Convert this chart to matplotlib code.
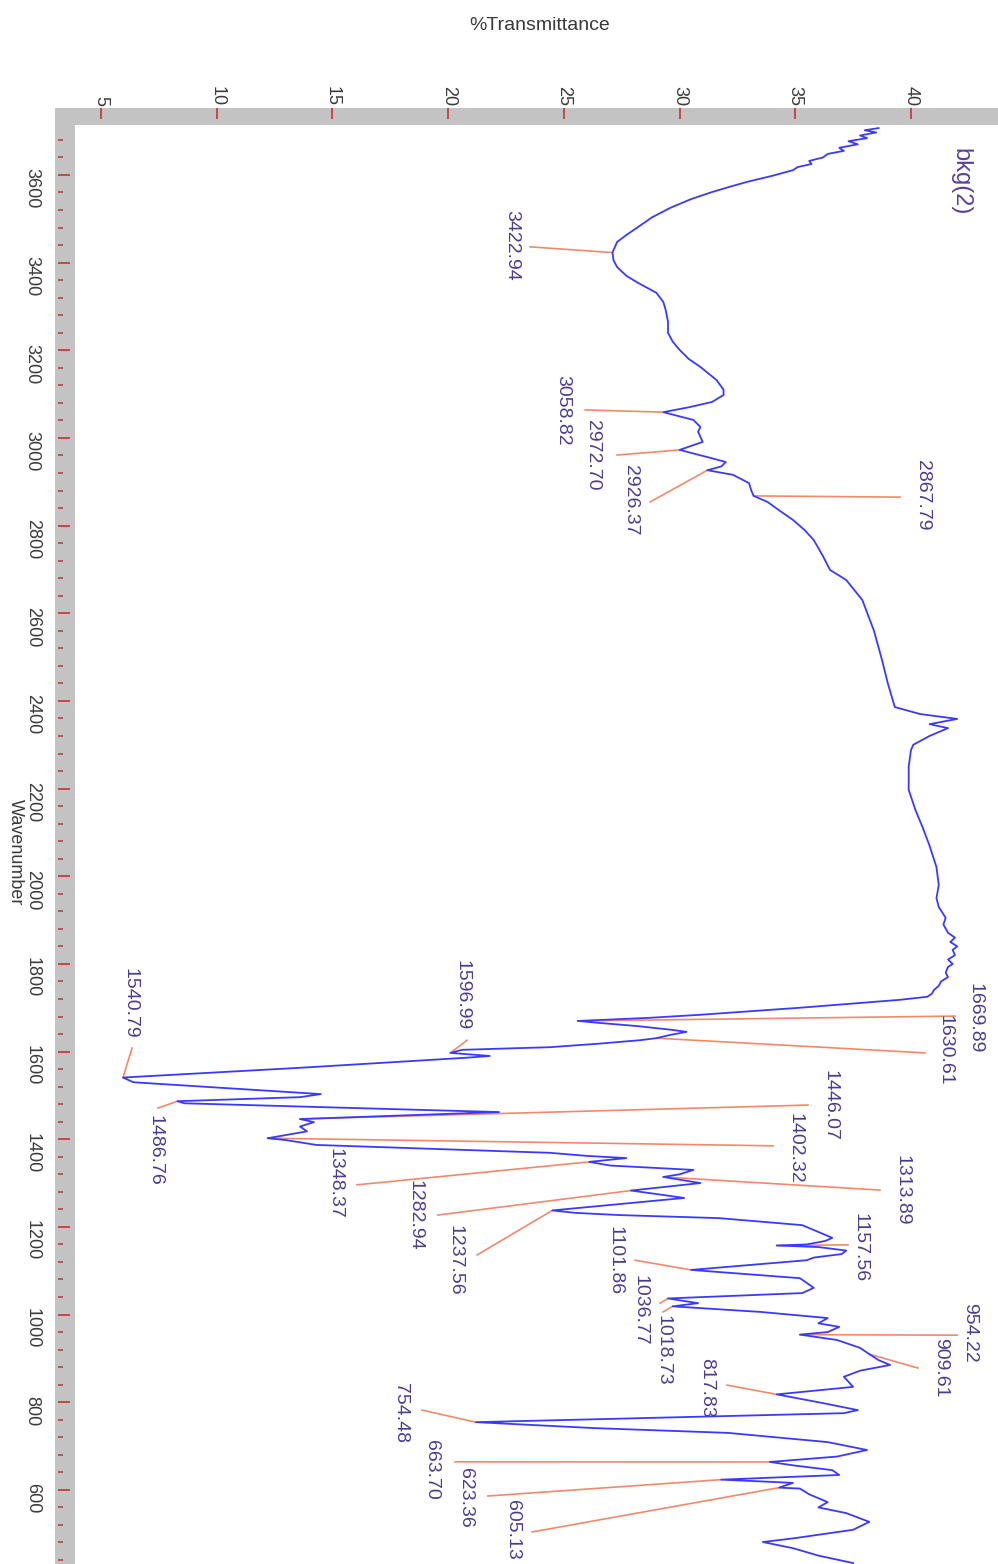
import numpy as np
import matplotlib.pyplot as plt
from matplotlib.ticker import MultipleLocator
from matplotlib.patches import Rectangle

plt.rcParams['font.family'] = ['Liberation Sans', 'DejaVu Sans']

# spectrum (wavenumber, %T)
wavenumber = [3707, 3702, 3697, 3690, 3684, 3677, 3670, 3662, 3655, 3648, 3640, 3632, 3625, 3618,
              3611, 3598, 3584, 3572, 3561, 3545, 3525, 3503, 3481, 3463, 3447, 3422.94, 3405, 3390,
              3370, 3354, 3331, 3310, 3292, 3265, 3240, 3220, 3201, 3180, 3162, 3132, 3110, 3098,
              3082, 3070, 3058.82, 3041, 3025, 3014, 2991, 2972.70, 2955, 2945, 2935, 2926.37, 2916,
              2897, 2880, 2867.79, 2854, 2835, 2813, 2790, 2767, 2730, 2699, 2676, 2630, 2560, 2493,
              2440, 2386, 2370, 2359, 2347, 2338, 2320, 2300, 2288, 2250, 2197, 2150, 2112, 2070,
              2021, 1980, 1950, 1930, 1905, 1890, 1871, 1860, 1850, 1840, 1832, 1820, 1810, 1800,
              1793, 1780, 1770, 1760, 1750, 1741, 1732, 1725, 1718, 1700, 1684, 1677, 1669.89, 1666,
              1658, 1650, 1645, 1638, 1630.61, 1626, 1618, 1610, 1604, 1596.99, 1590, 1586, 1563,
              1540.79, 1530, 1503, 1496, 1486.76, 1482, 1462, 1446.07, 1439, 1429, 1418, 1402.32,
              1398, 1387, 1369, 1362, 1357, 1348.37, 1340, 1330, 1320, 1313.89, 1306, 1300, 1282.94,
              1275, 1266, 1237.56, 1232, 1227, 1220, 1212, 1204, 1186, 1175, 1168, 1160, 1157.56,
              1154, 1146, 1138, 1130, 1124, 1101.86, 1083, 1061, 1049, 1036.77, 1026, 1018.73, 1006,
              992, 980, 972, 960, 954.22, 942, 924, 909.61, 896, 885, 872, 858, 835, 817.83, 800,
              782, 775, 754.48, 741, 730, 709, 691, 676, 663.70, 656, 645, 634, 623.36, 616, 605.13,
              603, 590, 572, 560, 547, 527, 509, 490, 481, 467, 450, 433]
transmittance = [38.6, 38.0, 38.5, 37.8, 38.1, 37.3, 37.7, 36.9, 37.1, 36.4, 36.2, 35.6, 35.7, 35.1,
                 34.9, 34.0, 32.9, 32.1, 31.4, 30.5, 29.6, 28.8, 28.2, 27.7, 27.3, 27.1, 27.15, 27.3,
                 27.7, 28.2, 29.0, 29.3, 29.4, 29.5, 29.5, 29.7, 30.0, 30.4, 30.9, 31.6, 31.9, 31.9,
                 31.4, 30.4, 29.3, 30.6, 30.9, 30.8, 31.0, 30.0, 31.3, 32.0, 31.8, 31.2, 32.3,
                 33.0, 33.1, 33.2, 33.8, 34.3, 34.9, 35.4, 35.8, 36.2, 36.5, 37.2, 37.9, 38.4, 38.75,
                 39.0, 39.3, 40.4, 42.0, 40.8, 41.6, 40.8, 40.1, 40.0, 39.9, 39.9, 40.2, 40.5, 40.8,
                 41.1, 41.2, 41.1, 41.2, 41.5, 41.4, 41.6, 41.9, 41.7, 42.0, 41.8, 41.9, 41.6, 41.8,
                 41.6, 41.5, 41.6, 41.3, 41.2, 41.0, 40.9, 40.7, 39.5, 35.2, 30.9, 28.7, 25.6, 26.4,
                 28.2, 29.6, 30.3, 29.6, 29.0, 28.3, 26.5, 24.4, 20.6, 20.1, 21.8, 20.8, 13.6,
                 5.95, 6.4, 14.5, 13.6, 8.3, 8.6, 22.2, 13.6, 14.2, 13.6, 13.9, 12.2,
                 13.0, 14.3, 24.4, 26.0, 27.7, 26.1, 27.0, 30.6, 30.0, 29.3, 30.2, 30.9, 27.9,
                 29.0, 30.2, 24.5, 25.5, 27.4, 31.7, 33.5, 35.3, 36.1, 36.6, 36.3, 35.5, 34.2,
                 36.0, 37.2, 37.0, 35.8, 35.5, 30.5, 35.2, 35.8, 35.3, 29.5, 30.8, 29.7, 33.5,
                 36.4, 36.0, 36.9, 36.4, 35.2, 36.8, 37.8, 38.2, 38.6, 39.1, 37.8, 37.1, 37.5, 34.2, 36.0,
                 37.7, 37.1, 21.2, 26.3, 32.1, 36.4, 38.1, 36.8, 33.9, 34.9, 36.6, 36.9, 31.8, 34.9, 34.3,
                 35.2, 35.6, 36.4, 36.0, 37.2, 38.2, 37.5, 35.0, 33.6, 34.9, 36.0, 37.5]

peak_labels = ['3422.94', '3058.82', '2972.70', '2926.37', '2867.79', '1669.89', '1630.61',
               '1596.99', '1540.79', '1486.76', '1446.07', '1402.32', '1348.37', '1313.89',
               '1282.94', '1237.56', '1157.56', '1101.86', '1036.77', '1018.73', '954.22',
               '909.61', '817.83', '754.48', '663.70', '623.36', '605.13']
peak_wn = [float(s) for s in peak_labels]

# where each label sits (%T, wavenumber) and where its leader line starts
label_pos = [(22.76, 3440), (24.97, 3064), (26.22, 2961), (27.86, 2858), (40.48, 2870),
             (42.77, 1677), (41.47, 1604), (20.6, 1729), (6.25, 1711), (7.33, 1375),
             (36.5, 1478), (35.0, 1380), (15.11, 1300), (39.6, 1284), (18.57, 1227),
             (20.3, 1124), (37.8, 1152), (27.2, 1124), (28.3, 1010), (29.3, 919),
             (42.55, 958), (41.26, 878), (31.15, 832), (17.92, 775), (19.3, 645),
             (20.73, 581), (22.76, 508)]
line_start = [(23.54, 3436), (25.92, 3064), (27.3, 2961), (28.73, 2854), (39.53, 2865),
              (41.9, 1681), (40.6, 1597), (20.82, 1626), (6.34, 1608), (7.46, 1471),
              (35.55, 1478), (34.04, 1385), (16.06, 1296), (38.66, 1284), (19.56, 1227),
              (21.25, 1136), (37.28, 1159), (28.08, 1124), (29.16, 1026), (29.29, 1006),
              (42.0, 953), (40.3, 878), (32.05, 839), (18.87, 782), (20.3, 664),
              (21.72, 586), (23.63, 504)]

W, H = 998, 1564
fig = plt.figure(figsize=(W / 100, H / 100), dpi=100)
fig.patch.set_facecolor('white')

# grey frame bars
grey = '#c3c3c3'
fig.add_artist(Rectangle((55 / W, 1 - 125 / H), 943 / W, 17 / H, transform=fig.transFigure,
                         facecolor=grey, edgecolor='none', zorder=0))
fig.add_artist(Rectangle((55 / W, 0), 20 / W, 1 - 108 / H, transform=fig.transFigure,
                         facecolor=grey, edgecolor='none', zorder=0))

ax = fig.add_axes([75 / W, 0, 1 - 75 / W, 1 - 125 / H])
ax.set_xlim(3.876, 43.76)
ax.set_ylim(430.9, 3714)

ax.plot(transmittance, wavenumber, color='#3a3aff', lw=1.3, zorder=3)

peak_t = np.interp(peak_wn, wavenumber[::-1], transmittance[::-1])
for lab, pw, pt, (tx, tw), (lx, lw) in zip(peak_labels, peak_wn, peak_t, label_pos, line_start):
    ax.plot([lx, pt], [lw, pw], color='#f2896a', lw=1.2, zorder=2)
    ax.text(tx, tw, lab, rotation=-90, ha='center', va='center', color='#4b3d8f', fontsize=14)

ax.text(42.12, 3584, 'bkg(2)', rotation=-90, ha='center', va='center', color='#5a3f9a', fontsize=17)

for side in ['right', 'bottom']:
    ax.spines[side].set_visible(False)
for side in ['left', 'top']:
    ax.spines[side].set_position(('outward', 12.2))
    ax.spines[side].set_visible(False)

ax.xaxis.tick_top()
ax.xaxis.set_major_locator(MultipleLocator(5))
ax.tick_params(axis='x', which='major', direction='in', length=8, width=1.3, color='#d03a3a',
               labelrotation=-90, pad=1.5, labelsize=13, labelcolor='#3a3a3a')
ax.yaxis.set_major_locator(MultipleLocator(200))
ax.yaxis.set_minor_locator(MultipleLocator(40))
ax.tick_params(axis='y', which='major', direction='in', length=8.5, width=1.3, color='#d03a3a',
               labelrotation=-90, pad=12.5, labelsize=13, labelcolor='#3a3a3a')
ax.tick_params(axis='y', which='minor', direction='in', length=3.5, width=1.3, color='#b05050')

fig.text(540 / W, 1 - 25 / H, '%Transmittance', ha='center', va='center', fontsize=14, color='#3a3a3a')
fig.text(15 / W, 1 - 852 / H, 'Wavenumber', rotation=-90, ha='center', va='center', fontsize=13,
         color='#3a3a3a')

fig.savefig('out.png', dpi=100)
